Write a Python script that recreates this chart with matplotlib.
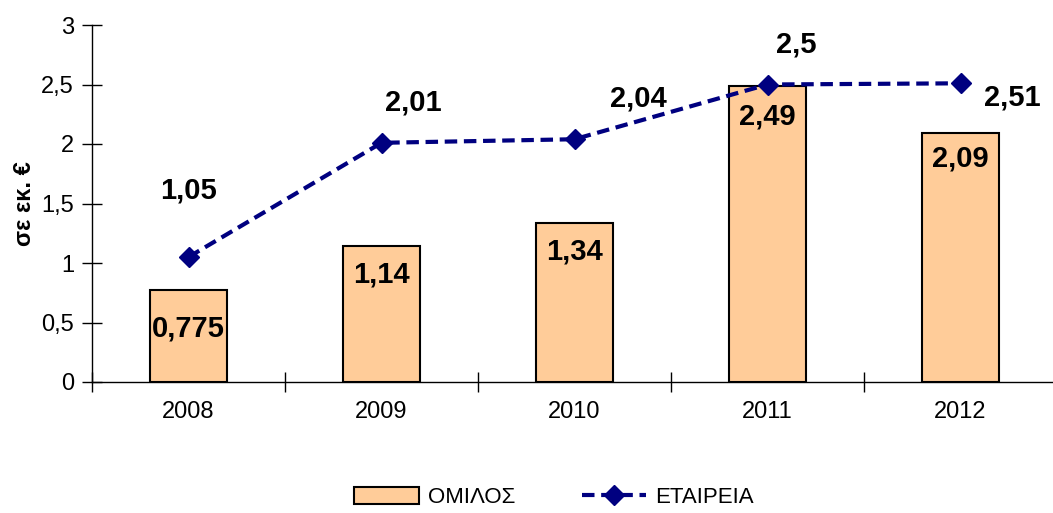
import matplotlib
matplotlib.use("Agg")
import matplotlib.pyplot as plt
import numpy as np

years = ["2008", "2009", "2010", "2011", "2012"]
omilos = [0.775, 1.14, 1.34, 2.49, 2.09]
etaireia = [1.05, 2.01, 2.04, 2.5, 2.51]
omilos_labels = ["0,775", "1,14", "1,34", "2,49", "2,09"]
etaireia_labels = ["1,05", "2,01", "2,04", "2,5", "2,51"]
yticks = [0, 0.5, 1, 1.5, 2, 2.5, 3]
ytick_labels = ["0", "0,5", "1", "1,5", "2", "2,5", "3"]

# label offsets (points)
line_label_offsets = [(0, 48), (23, 29), (46, 29), (21, 29), (37, -10)]
bar_label_offsets = [(0, -18), (0, -10), (0, -11), (0, -12), (0, -8)]

plt.rcParams['font.family'] = ['Liberation Sans', 'DejaVu Sans']

fig = plt.figure(figsize=(10.53, 5.13), dpi=100)
ax = fig.add_axes([92/1053, 1-382/513, 965/1053, 357/513])

x = np.arange(len(years))
ax.bar(x, omilos, width=0.4, color="#FFCC99", edgecolor="black",
       linewidth=1.5, label="ΟΜΙΛΟΣ", zorder=2)
ax.plot(x, etaireia, color="#000080", linestyle=(0, (3, 1.6)), linewidth=3,
        marker="D", markersize=10, label="ΕΤΑΙΡΕΙΑ", zorder=3)

for xi, v, lab, off in zip(x, omilos, omilos_labels, bar_label_offsets):
    ax.annotate(lab, (xi, v), xytext=off, textcoords="offset points",
                ha="center", va="top", fontsize=21, fontweight="bold", zorder=4)
for xi, v, lab, off in zip(x, etaireia, etaireia_labels, line_label_offsets):
    ax.annotate(lab, (xi, v), xytext=off, textcoords="offset points",
                ha="center", va="center", fontsize=21, fontweight="bold", zorder=4)

ax.set_xlim(-0.5, len(years) - 0.5)
ax.set_ylim(0, 3)
ax.set_yticks(yticks)
ax.set_yticklabels(ytick_labels, fontsize=17)
ax.set_xticks(x)
ax.set_xticklabels(years, fontsize=17)
ax.tick_params(axis="x", length=0, pad=14)
ax.set_xticks(np.arange(-0.5, len(years), 1), minor=True)
ax.tick_params(axis="x", which="minor", direction="inout", length=14, width=1)
ax.tick_params(axis="y", direction="inout", length=14, width=1, pad=6)
for s in ["top", "right"]:
    ax.spines[s].set_visible(False)
ax.spines["left"].set_linewidth(1)
ax.spines["bottom"].set_linewidth(1)
ax.set_ylabel("σε εκ. €", fontsize=17, fontweight="bold", labelpad=4)

handles, labels = ax.get_legend_handles_labels()
order = [labels.index("ΟΜΙΛΟΣ"), labels.index("ΕΤΑΙΡΕΙΑ")]
fig.legend([handles[i] for i in order], [labels[i] for i in order],
           loc="center", bbox_to_anchor=(0.526, 0.03), ncol=2, frameon=False,
           fontsize=16, handlelength=2.9, handleheight=0.8, columnspacing=3.0,
           handletextpad=0.4)

fig.savefig("out.png", dpi=100)
